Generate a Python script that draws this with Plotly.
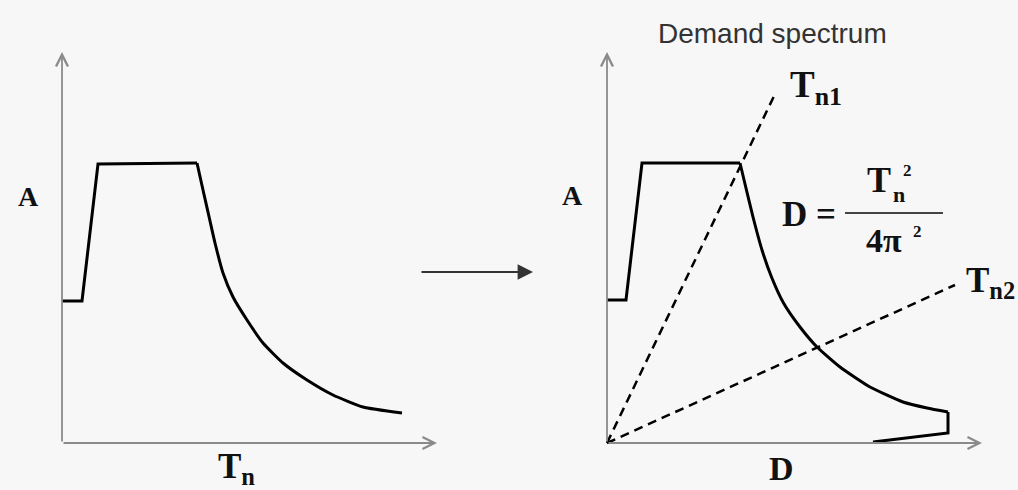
import plotly.graph_objects as go

W, H = 1018, 490

# ---- data (abstract units) ----
# Left panel: acceleration spectrum A versus period Tn
left_T = [0.00, 0.20, 0.36, 1.35, 1.41, 1.48, 1.53, 1.61, 1.71, 1.85, 2.01, 2.21, 2.45, 2.71, 3.01, 3.40]
left_A = [1.42, 1.42, 2.79, 2.80, 2.53, 2.22, 2.00, 1.70, 1.46, 1.23, 1.00, 0.80, 0.63, 0.48, 0.36, 0.30]

# Right panel: demand spectrum A versus D
right_D = [0.00, 0.19, 0.35, 1.33, 1.38, 1.46, 1.55, 1.645, 1.765, 1.93, 2.10, 2.33, 2.63, 2.96, 3.20, 3.41, 3.41, 2.66]
right_A = [1.43, 1.43, 2.80, 2.80, 2.59, 2.26, 1.93, 1.66, 1.40, 1.16, 0.96, 0.76, 0.56, 0.41, 0.35, 0.31, 0.10, 0.01]

# Radial period lines
tn1_D = [0.00, 1.69]
tn1_A = [0.00, 3.51]
tn2_D = [0.00, 3.48]
tn2_A = [0.00, 1.58]

# Axis extents (arrow tips)
axis_x_max = 3.75
axis_y_max = 3.91

X_RANGE = [-0.2, 3.95]
Y_RANGE = [-0.2, 4.1]


def px_x(p):
    return p / W


def px_y(p):
    return 1 - p / H


fig = go.Figure()

SOLID = dict(color="#000000", width=3)


def add_line(xs, ys, xa, ya, shape="linear", line=SOLID):
    extra = dict(smoothing=0.5) if shape == "spline" else {}
    fig.add_trace(go.Scatter(x=xs, y=ys, mode="lines", xaxis=xa, yaxis=ya,
                             line=dict(shape=shape, **extra, **line),
                             hoverinfo="skip"))


# left spectrum: straight segments up to the corner, smooth decay after it
add_line(left_T[:4], left_A[:4], "x", "y")
add_line(left_T[3:], left_A[3:], "x", "y", shape="spline")

# right spectrum
add_line(right_D[:4], right_A[:4], "x2", "y2")
add_line(right_D[3:16], right_A[3:16], "x2", "y2", shape="spline")
add_line(right_D[15:], right_A[15:], "x2", "y2")

DASH = dict(color="#000000", width=2.5, dash="9px,6px")
add_line(tn1_D, tn1_A, "x2", "y2", line=DASH)
add_line(tn2_D, tn2_A, "x2", "y2", line=DASH)

ydom = [px_y(463), px_y(33)]
ax_common = dict(visible=False, range=X_RANGE, fixedrange=True)
ay_common = dict(visible=False, range=Y_RANGE, fixedrange=True, domain=ydom)

fig.update_layout(
    width=W, height=H,
    margin=dict(l=0, r=0, t=0, b=0),
    paper_bgcolor="#f7f7f7", plot_bgcolor="rgba(0,0,0,0)",
    showlegend=False,
    xaxis=dict(domain=[px_x(42), px_x(457)], anchor="y", **ax_common),
    yaxis=dict(anchor="x", **ay_common),
    xaxis2=dict(domain=[px_x(587), px_x(1002)], anchor="y2", **ax_common),
    yaxis2=dict(anchor="x2", **ay_common),
)

annotations = []

# axis arrows
for xr, yr in (("x", "y"), ("x2", "y2")):
    for tip in ((axis_x_max, 0), (0, axis_y_max)):
        annotations.append(dict(
            xref=xr, yref=yr, axref=xr, ayref=yr,
            x=tip[0], y=tip[1], ax=0, ay=0, text="",
            showarrow=True, arrowhead=5, arrowsize=1.3, arrowwidth=1.8,
            arrowcolor="#8a8a8a"))

# middle arrow
annotations.append(dict(xref="paper", yref="paper", x=px_x(533), y=px_y(272),
                        ax=-113, ay=0, text="", showarrow=True, arrowhead=2,
                        arrowsize=1.4, arrowwidth=2.2, arrowcolor="#333333"))


def txt(text, x, y, size, family="Liberation Serif", color="#111111",
        xanchor="center", yanchor="middle"):
    annotations.append(dict(xref="paper", yref="paper", x=px_x(x), y=px_y(y),
                            text=text, showarrow=False, xanchor=xanchor, yanchor=yanchor,
                            font=dict(family=family, size=size, color=color)))


txt("Demand spectrum", 772, 34, 28, family="Liberation Sans", color="#333333")
txt("<b>A</b>", 28, 196, 28)
txt("<b>A</b>", 572, 195, 28)
txt("<b>T<sub>n</sub></b>", 236, 468, 35)
txt("<b>D</b>", 781, 468, 34)
txt("<b>T<sub>n1</sub></b>", 788, 88, 37, xanchor="left")
txt("<b>T<sub>n2</sub></b>", 1017, 282, 35, xanchor="right")
txt("<b>D =</b>", 809, 214, 35)
txt("<b>T</b>", 879, 180, 36)
txt("<b>n</b>", 899, 194, 22)
txt("<b>2</b>", 907, 171, 17)
txt("<b>4π</b>", 884, 240, 34)
txt("<b>2</b>", 917, 231, 17)

fig.update_layout(annotations=annotations)
fig.add_shape(type="line", xref="paper", yref="paper",
              x0=px_x(845), x1=px_x(943), y0=px_y(213), y1=px_y(213),
              line=dict(color="#444444", width=2))

fig.write_html("out.html", config={"displayModeBar": False},
               post_script="document.body.style.margin='0';document.body.style.overflow='hidden';")
